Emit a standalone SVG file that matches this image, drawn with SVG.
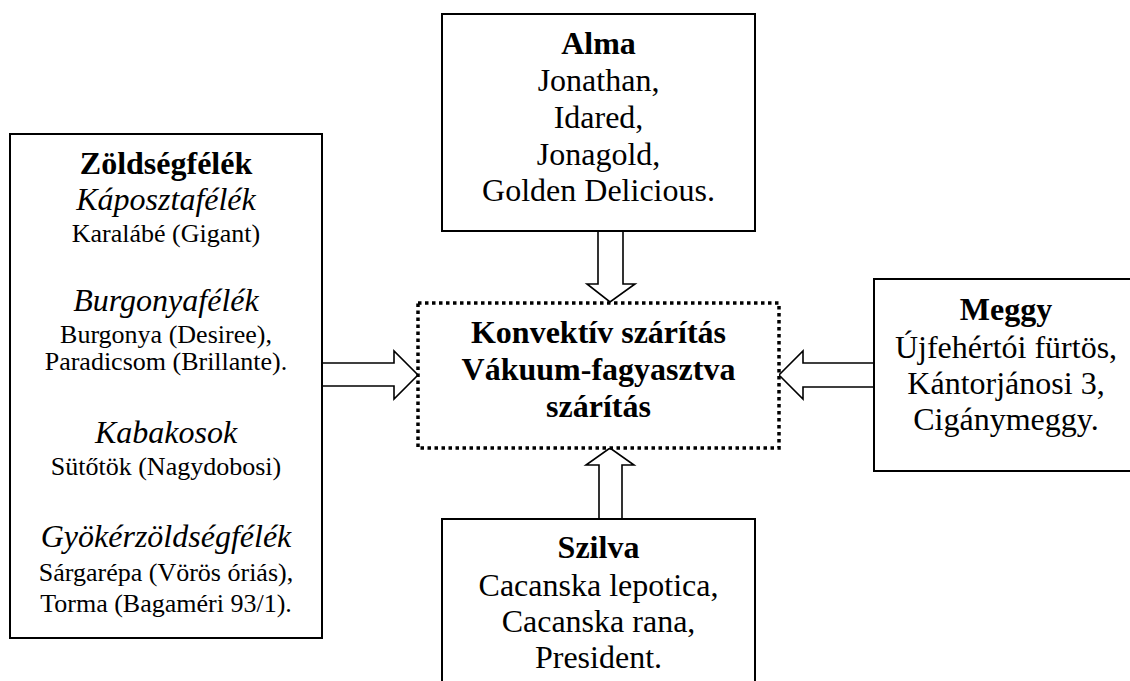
<svg xmlns="http://www.w3.org/2000/svg" width="1130" height="681" viewBox="0 0 1130 681">
<style>
  .box { fill: #fff; stroke: #000; stroke-width: 2; }
  .dot { fill: #fff; stroke: #000; stroke-width: 3.5; stroke-dasharray: 3.5 3.5; }
  .arr { fill: #fff; stroke: #000; stroke-width: 1.6; stroke-linejoin: miter; }
  text { font-family: "Liberation Serif", "Times New Roman", serif; fill: #000; text-anchor: middle; }
  .b { font-weight: bold; font-size: 32px; }
  .i { font-style: italic; font-size: 32px; }
  .r { font-size: 32px; }
  .s { font-size: 26px; }
</style>
<rect width="1130" height="681" fill="#fff"/>

<g id="connectors">
  <polygon class="arr" points="322,363 394,363 394,351 418,375 394,399 394,386 322,386"/>
  <polygon class="arr" points="598,231 623,231 623,284 635,284 610,302 587,284 598,284"/>
  <polygon class="arr" points="874,363 803,363 803,351 779,375 803,399 803,387 874,387"/>
  <polygon class="arr" points="599,519 599,465 586,465 610,448 634,465 622,465 622,519"/>
</g>

<g id="zoldseg">
  <rect class="box" x="10" y="134" width="312" height="504"/>
  <text class="b" x="166" y="174">Zöldségfélék</text>
  <text class="i" x="166" y="210">Káposztafélék</text>
  <text class="s" x="166" y="242">Karalábé (Gigant)</text>
  <text class="i" x="166" y="311">Burgonyafélék</text>
  <text class="s" x="166" y="343">Burgonya (Desiree),</text>
  <text class="s" x="166" y="370">Paradicsom (Brillante).</text>
  <text class="i" x="166" y="443">Kabakosok</text>
  <text class="s" x="166" y="475">Sütőtök (Nagydobosi)</text>
  <text class="i" x="166" y="547">Gyökérzöldségfélék</text>
  <text class="s" x="166" y="581">Sárgarépa (Vörös óriás),</text>
  <text class="s" x="166" y="612">Torma (Bagaméri 93/1).</text>
</g>

<g id="alma">
  <rect class="box" x="442" y="14" width="313" height="217"/>
  <text class="b" x="598.5" y="54">Alma</text>
  <text class="r" x="598.5" y="91">Jonathan,</text>
  <text class="r" x="598.5" y="128">Idared,</text>
  <text class="r" x="598.5" y="165">Jonagold,</text>
  <text class="r" x="598.5" y="201">Golden Delicious.</text>
</g>

<g id="szaritas">
  <rect class="dot" x="418" y="303" width="361" height="145"/>
  <text class="b" x="598.5" y="343">Konvektív szárítás</text>
  <text class="b" x="598.5" y="380">Vákuum-fagyasztva</text>
  <text class="b" x="598.5" y="417">szárítás</text>
</g>

<g id="meggy">
  <rect class="box" x="874" y="279" width="264" height="192"/>
  <text class="b" x="1006" y="320">Meggy</text>
  <text class="r" x="1006" y="358">Újfehértói fürtös,</text>
  <text class="r" x="1006" y="394">Kántorjánosi 3,</text>
  <text class="r" x="1006" y="430">Cigánymeggy.</text>
</g>

<g id="szilva">
  <rect class="box" x="442" y="519" width="313" height="200"/>
  <text class="b" x="598.5" y="558">Szilva</text>
  <text class="r" x="598.5" y="596">Cacanska lepotica,</text>
  <text class="r" x="598.5" y="632">Cacanska rana,</text>
  <text class="r" x="598.5" y="668">President.</text>
</g>
</svg>
